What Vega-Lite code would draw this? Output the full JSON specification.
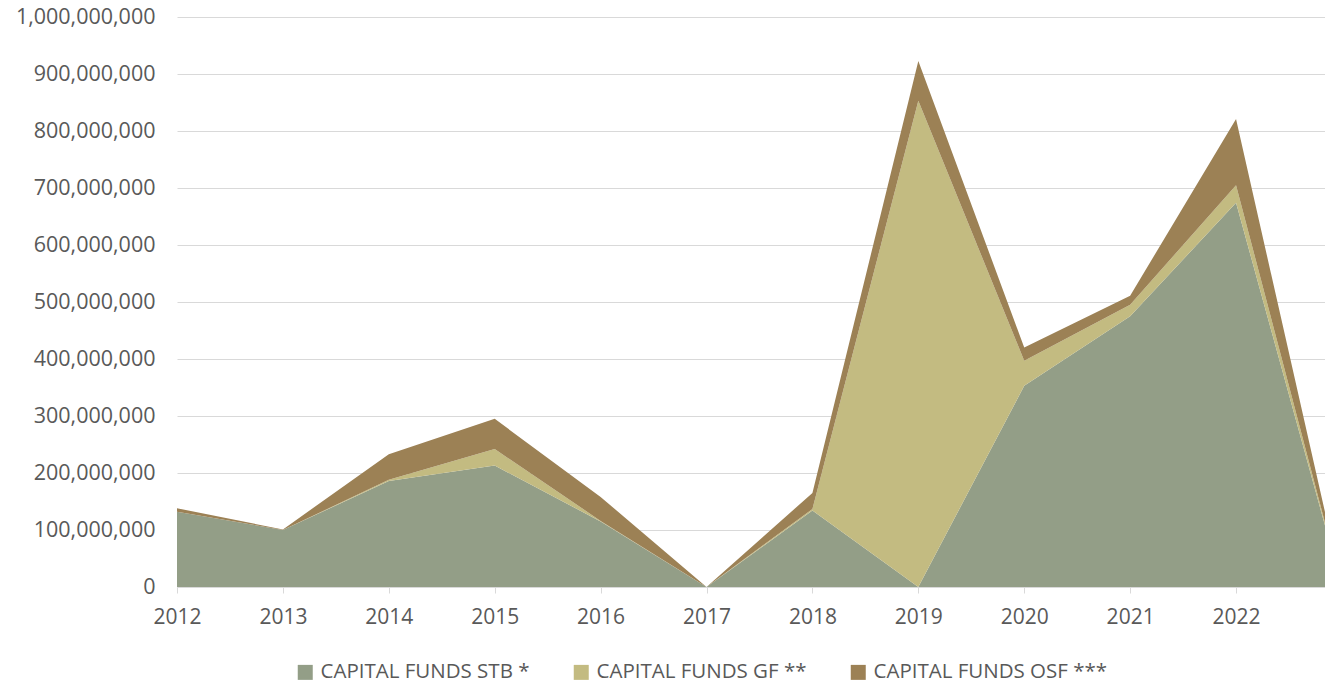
{
  "$schema": "https://vega.github.io/schema/vega-lite/v6.json",
  "autosize": {"type": "none"},
  "padding": {"left": 177, "top": 17, "right": 0, "bottom": 96},
  "width": 1148,
  "height": 570,
  "background": "white",
  "config": {
    "view": {"stroke": null},
    "font": "Open Sans",
    "axis": {"labelFont": "Open Sans", "labelColor": "#595959", "titleFontSize": 0},
    "legend": {"labelFont": "Open Sans", "labelFontSize": 20.5, "labelColor": "#595959"}
  },
  "data": {
    "values": [
      {"year": 2012, "series": "CAPITAL FUNDS STB *", "k": 1, "value": 132000000},
      {"year": 2012, "series": "CAPITAL FUNDS GF **", "k": 2, "value": 0},
      {"year": 2012, "series": "CAPITAL FUNDS OSF ***", "k": 3, "value": 6000000},
      {"year": 2013, "series": "CAPITAL FUNDS STB *", "k": 1, "value": 100000000},
      {"year": 2013, "series": "CAPITAL FUNDS GF **", "k": 2, "value": 0},
      {"year": 2013, "series": "CAPITAL FUNDS OSF ***", "k": 3, "value": 1000000},
      {"year": 2014, "series": "CAPITAL FUNDS STB *", "k": 1, "value": 186000000},
      {"year": 2014, "series": "CAPITAL FUNDS GF **", "k": 2, "value": 2000000},
      {"year": 2014, "series": "CAPITAL FUNDS OSF ***", "k": 3, "value": 45000000},
      {"year": 2015, "series": "CAPITAL FUNDS STB *", "k": 1, "value": 213000000},
      {"year": 2015, "series": "CAPITAL FUNDS GF **", "k": 2, "value": 29000000},
      {"year": 2015, "series": "CAPITAL FUNDS OSF ***", "k": 3, "value": 53000000},
      {"year": 2016, "series": "CAPITAL FUNDS STB *", "k": 1, "value": 115000000},
      {"year": 2016, "series": "CAPITAL FUNDS GF **", "k": 2, "value": 1000000},
      {"year": 2016, "series": "CAPITAL FUNDS OSF ***", "k": 3, "value": 42000000},
      {"year": 2017, "series": "CAPITAL FUNDS STB *", "k": 1, "value": 0},
      {"year": 2017, "series": "CAPITAL FUNDS GF **", "k": 2, "value": 0},
      {"year": 2017, "series": "CAPITAL FUNDS OSF ***", "k": 3, "value": 0},
      {"year": 2018, "series": "CAPITAL FUNDS STB *", "k": 1, "value": 134000000},
      {"year": 2018, "series": "CAPITAL FUNDS GF **", "k": 2, "value": 3000000},
      {"year": 2018, "series": "CAPITAL FUNDS OSF ***", "k": 3, "value": 28000000},
      {"year": 2019, "series": "CAPITAL FUNDS STB *", "k": 1, "value": 0},
      {"year": 2019, "series": "CAPITAL FUNDS GF **", "k": 2, "value": 853000000},
      {"year": 2019, "series": "CAPITAL FUNDS OSF ***", "k": 3, "value": 70000000},
      {"year": 2020, "series": "CAPITAL FUNDS STB *", "k": 1, "value": 353000000},
      {"year": 2020, "series": "CAPITAL FUNDS GF **", "k": 2, "value": 44000000},
      {"year": 2020, "series": "CAPITAL FUNDS OSF ***", "k": 3, "value": 23000000},
      {"year": 2021, "series": "CAPITAL FUNDS STB *", "k": 1, "value": 475000000},
      {"year": 2021, "series": "CAPITAL FUNDS GF **", "k": 2, "value": 20000000},
      {"year": 2021, "series": "CAPITAL FUNDS OSF ***", "k": 3, "value": 16000000},
      {"year": 2022, "series": "CAPITAL FUNDS STB *", "k": 1, "value": 674000000},
      {"year": 2022, "series": "CAPITAL FUNDS GF **", "k": 2, "value": 31000000},
      {"year": 2022, "series": "CAPITAL FUNDS OSF ***", "k": 3, "value": 116000000},
      {"year": 2023, "series": "CAPITAL FUNDS STB *", "k": 1, "value": 0},
      {"year": 2023, "series": "CAPITAL FUNDS GF **", "k": 2, "value": 0},
      {"year": 2023, "series": "CAPITAL FUNDS OSF ***", "k": 3, "value": 0}
    ]
  },
  "mark": {"type": "area", "clip": true, "interpolate": "linear"},
  "encoding": {
    "x": {
      "field": "year",
      "type": "quantitative",
      "scale": {"domain": [2012, 2022.84], "nice": false, "zero": false},
      "axis": {
        "title": null,
        "values": [2012, 2013, 2014, 2015, 2016, 2017, 2018, 2019, 2020, 2021, 2022],
        "format": "d",
        "grid": false,
        "domainColor": "#D9D9D9",
        "domainWidth": 1,
        "tickColor": "#D9D9D9",
        "tickSize": 6,
        "labelPadding": 13,
        "labelFontSize": 21,
        "labelFlush": false,
        "labelOverlap": false,
        "zindex": 1
      }
    },
    "y": {
      "field": "value",
      "type": "quantitative",
      "stack": "zero",
      "scale": {"domain": [0, 1000000000], "nice": false},
      "axis": {
        "title": null,
        "values": [0, 100000000, 200000000, 300000000, 400000000, 500000000, 600000000, 700000000, 800000000, 900000000, 1000000000],
        "format": ",d",
        "domain": false,
        "ticks": false,
        "tickSize": 0,
        "labelPadding": 22,
        "labelFontSize": 21.5,
        "gridColor": "#D9D9D9",
        "gridWidth": 1
      }
    },
    "color": {
      "field": "series",
      "type": "nominal",
      "scale": {
        "domain": ["CAPITAL FUNDS STB *", "CAPITAL FUNDS GF **", "CAPITAL FUNDS OSF ***"],
        "range": ["#939E87", "#C3BB81", "#9C8155"]
      },
      "legend": {
        "title": null,
        "orient": "none",
        "direction": "horizontal",
        "legendX": 118,
        "legendY": 645,
        "symbolType": "square",
        "symbolSize": 225,
        "symbolStrokeWidth": 0,
        "symbolOpacity": 1,
        "labelOffset": 5,
        "columnPadding": 41,
        "padding": 0,
        "labelLimit": 400
      }
    },
    "order": {"field": "k", "type": "quantitative"}
  }
}
